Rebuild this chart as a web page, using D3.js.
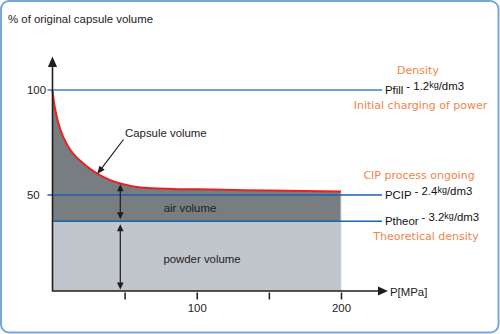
<!DOCTYPE html>
<html>
<head>
<meta charset="utf-8">
<script src="https://cdn.jsdelivr.net/npm/d3@7"></script>
<style>
  html, body { margin: 0; padding: 0; background: #fff; }
  svg { display: block; }
</style>
</head>
<body>
<svg id="chart" width="500" height="334"></svg>
<script>
// Capsule volume during cold isostatic pressing (CIP)
const pressure      = [0, 1, 2.4, 5.5, 11, 21, 31, 40, 49, 61, 84, 111, 151, 200];   // MPa
const capsuleVolume = [100, 94.3, 89, 81, 73, 65.2, 60.2, 57.1, 55.1, 53.6, 52.9, 52.6, 52.1, 51.7]; // % of original

// reference density levels
const levelNames  = ["Pfill", "PCIP", "Ptheor"];
const levelValues = [100, 50, 37.5];
const densities   = ["1.2", "2.4", "3.2"];
const notesAbove  = ["Density", "CIP process ongoing", ""];
const notesBelow  = ["Initial charging of power", "", "Theoretical density"];

const xTicks = [50, 100, 150, 200];
const xTickLabels = ["", "100", "", "200"];
const yTicks = [100, 50];
const yTickLabels = ["100", "50"];
const arrowPressure = 47;    // where the volume split arrows stand
const pointerPressure = 31;  // where the "Capsule volume" pointer hits the curve

const svg = d3.select("#chart");
const W = 500, H = 334;
const baseY = 291;           // pixel row of the pressure axis
const axisX = 52.5;          // pixel column of the volume axis

const x = d3.scaleLinear().domain([0, 200]).range([axisX, 341]);
const y = d3.scaleLinear().domain([0, 100]).range([300, 90]);

const sans = "'Liberation Sans', Arial, sans-serif";
const verd = "'DejaVu Sans', Verdana, sans-serif";
const orange = "#f3844b";
const axisCol = "#1e1e1e";

// frame
svg.append("rect")
  .attr("x", 1).attr("y", 1).attr("width", W - 2.5).attr("height", H - 2.5)
  .attr("rx", 8).attr("ry", 8)
  .attr("fill", "#fff").attr("stroke", "#7aa6dd").attr("stroke-width", 2);

// title of the vertical axis
svg.append("text").attr("x", 8).attr("y", 23)
  .attr("font-family", sans).attr("font-size", 11.4).attr("fill", "#222")
  .text("% of original capsule volume");

const pts = pressure.map((p, i) => [p, capsuleVolume[i]]);
const theor = levelValues[2];

// powder volume (solid part)
svg.append("path")
  .datum([0, 200])
  .attr("d", d3.area().x(d => x(d)).y0(baseY).y1(y(theor)))
  .attr("fill", "#c1c5cc");

// air volume between capsule curve and theoretical density
svg.append("path")
  .datum(pts)
  .attr("d", d3.area().curve(d3.curveMonotoneX)
    .x(d => x(d[0])).y0(y(theor)).y1(d => y(d[1])))
  .attr("fill", "#777d80");

// right edge of the filled region
svg.append("line")
  .attr("x1", x(200)).attr("x2", x(200))
  .attr("y1", y(capsuleVolume[capsuleVolume.length - 1])).attr("y2", baseY)
  .attr("stroke", "#d5d8dc").attr("stroke-width", 1);

// capsule volume curve
svg.append("path")
  .datum(pts)
  .attr("d", d3.line().curve(d3.curveMonotoneX).x(d => x(d[0])).y(d => y(d[1])))
  .attr("fill", "none").attr("stroke", "#e8231f").attr("stroke-width", 2);

// density level lines
const levelColors = ["#4a7dcc", "#1c60ab", "#1664b4"];
const levelStart = [axisX - 5, axisX - 5, axisX];
levelValues.forEach((v, i) => {
  svg.append("line")
    .attr("x1", levelStart[i]).attr("x2", 382)
    .attr("y1", y(v)).attr("y2", y(v))
    .attr("stroke", levelColors[i]).attr("stroke-width", i === 0 ? 1.6 : 1.4);
});

// vertical axis with arrow
svg.append("line")
  .attr("x1", axisX).attr("x2", axisX).attr("y1", baseY + 0.5).attr("y2", 63)
  .attr("stroke", axisCol).attr("stroke-width", 1.6);
svg.append("path")
  .attr("d", `M${axisX},56.5 L${axisX - 4.6},67 L${axisX + 4.6},67 Z`)
  .attr("fill", axisCol);

// horizontal axis with arrow
svg.append("line")
  .attr("x1", axisX).attr("x2", 381).attr("y1", baseY).attr("y2", baseY)
  .attr("stroke", axisCol).attr("stroke-width", 1.6);
svg.append("path")
  .attr("d", `M388,${baseY} L378,${baseY - 4.6} L378,${baseY + 4.6} Z`)
  .attr("fill", axisCol);
svg.append("text").attr("x", 390).attr("y", 296)
  .attr("font-family", sans).attr("font-size", 11.4).attr("fill", "#222")
  .text("P[MPa]");

// pressure ticks
const xAxis = d3.axisBottom(x)
  .tickValues(xTicks)
  .tickSize(7)
  .tickFormat((d, i) => xTickLabels[i]);
const gx = svg.append("g").attr("transform", `translate(0,${baseY + 1.5})`).call(xAxis);
gx.select(".domain").remove();
gx.selectAll(".tick line").attr("stroke", axisCol).attr("stroke-width", 1.5);
gx.selectAll(".tick text")
  .attr("y", 19).attr("dy", 0)
  .attr("font-family", sans).attr("font-size", 11.4).attr("fill", "#222");

// volume tick labels
yTicks.forEach((v, i) => {
  svg.append("text").attr("x", 27).attr("y", y(v) + 4.2)
    .attr("font-family", sans).attr("font-size", 11.4).attr("fill", "#222")
    .text(yTickLabels[i]);
});

// level labels with densities
levelValues.forEach((v, i) => {
  const ly = y(v);
  const name = svg.append("text").attr("x", 385).attr("y", ly + 4)
    .attr("font-family", sans).attr("font-size", 11.4).attr("fill", "#111")
    .text(levelNames[i]);
  const nameEnd = 385 + name.node().getComputedTextLength();
  const dens = svg.append("text").attr("x", nameEnd + 3).attr("y", ly - 0.5)
    .attr("font-family", sans).attr("font-size", 11.4).attr("fill", "#111");
  dens.append("tspan").text("- " + densities[i]);
  dens.append("tspan").attr("font-size", 9).attr("dy", -1.5).text("kg");
  dens.append("tspan").attr("dy", 1.5).text("/dm3");
});

// orange notes
const aboveX = [418, 419, 0];
const belowX = [420.5, 0, 426];
levelValues.forEach((v, i) => {
  if (notesAbove[i]) {
    svg.append("text").attr("x", aboveX[i]).attr("y", y(v) - 16)
      .attr("text-anchor", "middle")
      .attr("font-family", verd).attr("font-size", 11).attr("fill", orange)
      .text(notesAbove[i]);
  }
  if (notesBelow[i]) {
    svg.append("text").attr("x", belowX[i]).attr("y", y(v) + 18.5)
      .attr("text-anchor", "middle")
      .attr("font-family", verd).attr("font-size", 11).attr("fill", orange)
      .text(notesBelow[i]);
  }
});

// region labels
svg.append("text").attr("x", 190).attr("y", 211.5).attr("text-anchor", "middle")
  .attr("font-family", sans).attr("font-size", 11.4).attr("fill", "#222")
  .text("air volume");
svg.append("text").attr("x", 202).attr("y", 263).attr("text-anchor", "middle")
  .attr("font-family", sans).attr("font-size", 11.4).attr("fill", "#222")
  .text("powder volume");

// arrow helpers
function arrowHead(tipX, tipY, angle, len, half) {
  const ca = Math.cos(angle), sa = Math.sin(angle);
  const bx = tipX - ca * len, by = tipY - sa * len;
  return `M${tipX},${tipY} L${bx - sa * half},${by + ca * half} L${bx + sa * half},${by - ca * half} Z`;
}
function doubleArrow(ax, yTop, yBot) {
  svg.append("line").attr("x1", ax).attr("x2", ax).attr("y1", yTop + 4).attr("y2", yBot - 4)
    .attr("stroke", axisCol).attr("stroke-width", 1.2);
  svg.append("path").attr("d", arrowHead(ax, yTop, -Math.PI / 2, 7, 3.3)).attr("fill", axisCol);
  svg.append("path").attr("d", arrowHead(ax, yBot, Math.PI / 2, 7, 3.3)).attr("fill", axisCol);
}

// curve value at a given pressure, read from the drawn path
const curveY = p => {
  const i = d3.bisectLeft(pressure, p);
  const t = (p - pressure[i - 1]) / (pressure[i] - pressure[i - 1]);
  return capsuleVolume[i - 1] + t * (capsuleVolume[i] - capsuleVolume[i - 1]);
};

const ax = x(arrowPressure);
doubleArrow(ax, y(curveY(arrowPressure)) + 1, y(theor) - 2);
doubleArrow(ax, y(theor) + 3, baseY - 1.5);

// pointer to the capsule curve
const tipX = x(pointerPressure), tipY = y(curveY(pointerPressure)) + 0.5;
const startX = 123.5, startY = 139.5;
const ang = Math.atan2(tipY - startY, tipX - startX);
svg.append("line").attr("x1", startX).attr("y1", startY)
  .attr("x2", tipX - Math.cos(ang) * 5).attr("y2", tipY - Math.sin(ang) * 5)
  .attr("stroke", axisCol).attr("stroke-width", 1.2);
svg.append("path").attr("d", arrowHead(tipX, tipY, ang, 8, 3.3)).attr("fill", axisCol);
svg.append("text").attr("x", 125).attr("y", 137)
  .attr("font-family", sans).attr("font-size", 11.4).attr("fill", "#222")
  .text("Capsule volume");
</script>
</body>
</html>
